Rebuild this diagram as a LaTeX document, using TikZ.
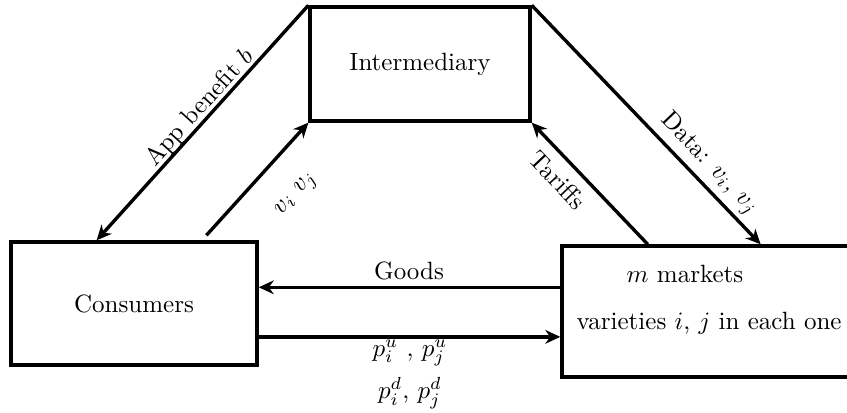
\documentclass[tikz,border=0pt]{standalone}
\usetikzlibrary{calc,arrows.meta}

\begin{document}
\begin{tikzpicture}[>={Stealth[length=6pt,width=5.5pt]},line width=1.35pt,
  box/.style={draw,line width=1.35pt}]
  \useasboundingbox (0,0) rectangle (11.905,5.791);
  % the three agents
  \node[box,minimum width=3.093cm,minimum height=1.602cm] (inter) at (5.904,4.891) {Intermediary};
  \node[box,minimum width=3.458cm,minimum height=1.729cm] (cons) at (1.884,1.525) {Consumers};
  \node[box,minimum width=4.048cm,minimum height=1.841cm] (mkt) at (9.923,1.413) {};
  \node (mktA) at (9.628,1.940) {$m$ markets};
  \node (mktB) at (9.966,1.251) {varieties $i$, $j$ in each one};
  % flows
  \draw[->] (inter.north west) -- ($(cons.north west)!0.35!(cons.north east)$);
  \draw[->] ($(cons.north west)!0.79!(cons.north east)+(0,0.07)$) -- (inter.south west);
  \draw[->] (inter.north east) -- ($(mkt.north west)!0.6875!(mkt.north east)$);
  \draw[->] ($(mkt.north west)!0.30!(mkt.north east)$) -- (inter.south east);
  \coordinate (goodsR) at ($(mkt.north west)!0.32!(mkt.south west)$);
  \draw[->] (goodsR) -- (goodsR -| cons.east);
  \coordinate (priceL) at ($(cons.north east)!0.764!(cons.south east)$);
  \draw[->] (priceL) -- (priceL -| mkt.west);
  % labels
  \node[rotate=47.8] (lApp) at (2.811,4.273) {App benefit $b$};
  \node[rotate=47.8] (lVal) at (4.175,3.050) {$v_i$ $v_j$};
  \node[rotate=-46.6] (lTar) at (7.843,3.261) {Tariffs};
  \node[rotate=-46.1] (lData) at (9.966,3.486) {Data: $v_i$, $v_j$};
  \node (lGoods) at (5.749,1.982) {Goods};
  \node (lPu) at (5.763,0.829) {$p_i^u$ , $p_j^u$};
  \node (lPd) at (5.763,0.267) {$p_i^d$, $p_j^d$};
\end{tikzpicture}
\end{document}
